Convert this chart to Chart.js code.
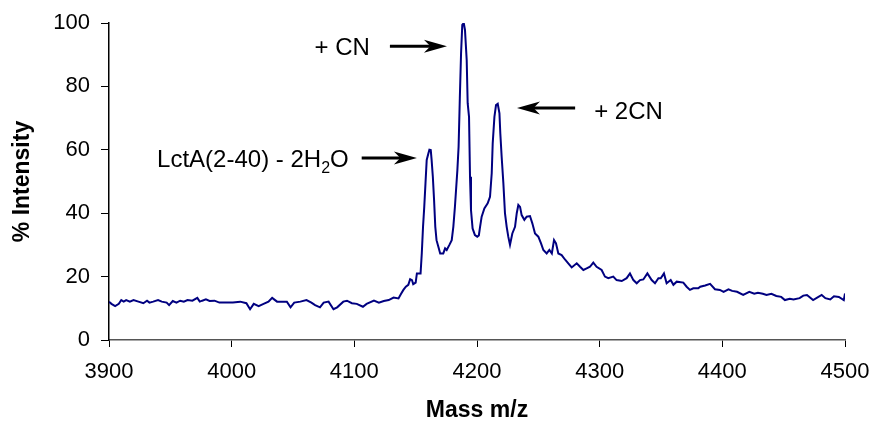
<!DOCTYPE html>
<html>
<head>
<meta charset="utf-8">
<script src="https://cdn.jsdelivr.net/npm/chart.js@4/dist/chart.umd.min.js"></script>
<style>
  html, body { margin: 0; padding: 0; background: #ffffff; }
  #wrap { width: 873px; height: 430px; }
</style>
</head>
<body>
<div id="wrap"><canvas id="spectrum" width="873" height="430"></canvas></div>
<script>
// Mass spectrum of LctA(2-40): m/z against relative intensity
const massValues = [
  3900, 3902, 3905, 3908, 3910, 3912, 3914, 3917, 3920, 3924,
  3928, 3931, 3933, 3936, 3940, 3943, 3947, 3949, 3952, 3955,
  3958, 3961, 3964, 3968, 3972, 3974, 3976, 3979, 3982, 3986,
  3990, 3996, 4001, 4007, 4012, 4015, 4018, 4022, 4026, 4030,
  4033, 4037, 4045, 4048, 4051, 4056, 4061, 4065, 4068, 4072,
  4075, 4079, 4083, 4086, 4091, 4094, 4098, 4102, 4107, 4110,
  4116, 4120, 4124, 4128, 4132, 4136, 4138, 4140, 4142, 4144,
  4145.5, 4147, 4148, 4150, 4151, 4154, 4155, 4156, 4157, 4158,
  4159, 4160.4, 4161.2, 4162.3, 4163, 4164, 4165, 4166, 4167, 4168.5,
  4170, 4172.5, 4174, 4175.3, 4177.5, 4179.4, 4180.7, 4182, 4184, 4185,
  4186, 4187, 4188, 4189.2, 4190.2, 4191.6, 4192.4, 4193.5, 4194.3, 4195.1,
  4196.4, 4198.3, 4200.2, 4201.5, 4202.5, 4203.8, 4206, 4208.7, 4210.6, 4212,
  4212.8, 4214.2, 4215.5, 4216.9, 4218.3, 4219, 4220.1, 4221.5, 4222.8, 4224.2,
  4225.5, 4226.9, 4228.8, 4231, 4232.4, 4233.7, 4235.1, 4236.4, 4238.6, 4240.5,
  4243.2, 4245.1, 4247.3, 4250, 4252.2, 4254.1, 4256.8, 4259, 4261, 4262.8,
  4264.4, 4266.3, 4269, 4271.7, 4274.4, 4277.2, 4281.3, 4284, 4286.7, 4289.4,
  4292.1, 4294.8, 4297.5, 4301.6, 4304.3, 4307, 4311.1, 4313.8, 4318, 4322,
  4324.7, 4327.5, 4330.2, 4332.9, 4335.6, 4338.9, 4342.4, 4345.1, 4347.9, 4349.8,
  4352.4, 4354.6, 4357.9, 4360.1, 4362.8, 4368.2, 4370.9, 4373.6, 4376.3, 4380.4,
  4382, 4386, 4390, 4394, 4398, 4401, 4405, 4408, 4412, 4417,
  4422, 4426, 4429, 4433, 4436, 4440, 4444, 4448, 4451, 4455,
  4458, 4463, 4466, 4469, 4474, 4478, 4481, 4484, 4488, 4491,
  4495, 4499, 4500
];
const intensityValues = [
  12.1, 11.4, 10.7, 11.4, 12.6, 12.1, 12.6, 12.1, 12.6, 12.1,
  11.6, 12.4, 11.8, 12.1, 12.6, 12.1, 11.8, 11.0, 12.3, 11.8,
  12.4, 12.1, 12.6, 12.4, 13.3, 12.1, 12.4, 12.8, 12.3, 12.4,
  11.8, 11.8, 11.8, 12.1, 11.6, 9.7, 11.4, 10.7, 11.4, 12.1,
  13.3, 12.1, 12.1, 10.3, 11.8, 12.1, 12.6, 11.8, 11.0, 10.3,
  11.8, 12.1, 9.7, 10.3, 12.1, 12.4, 11.6, 11.4, 10.5, 11.4,
  12.4, 11.8, 12.3, 12.6, 13.4, 13.1, 14.5, 15.8, 16.8, 17.4,
  19.2, 18.9, 17.6, 18.1, 21.0, 21.0, 27.4, 35.7, 42.0, 49.4,
  56.8, 58.9, 60.0, 59.9, 56.8, 51.5, 44.2, 35.7, 31.5, 29.4,
  27.3, 27.3, 28.9, 28.4, 30.0, 31.5, 35.7, 42.0, 53.6, 61.0,
  76.3, 90.4, 99.4, 100.0, 97.8, 88.3, 74.7, 70.4, 51.5, 41.0,
  35.2, 33.1, 32.6, 33.0, 35.7, 38.9, 41.5, 43.1, 45.2, 52.6,
  62.0, 70.4, 74.1, 74.5, 71.5, 65.2, 57.8, 49.4, 40.0, 35.7,
  32.6, 30.0, 33.6, 35.7, 40.0, 42.6, 42.0, 39.4, 37.9, 38.9,
  39.1, 36.8, 33.6, 32.6, 30.5, 28.4, 27.3, 28.4, 27.3, 31.5,
  30.5, 27.3, 26.8, 25.4, 24.2, 22.9, 24.2, 23.1, 22.1, 22.6,
  23.1, 24.4, 23.1, 22.1, 20.0, 19.5, 20.0, 18.9, 18.6, 19.5,
  21.0, 18.9, 17.9, 18.9, 19.1, 21.0, 18.9, 17.9, 19.5, 19.5,
  21.0, 17.9, 18.9, 17.4, 18.4, 18.1, 16.8, 15.8, 16.3, 16.3,
  16.8, 17.2, 17.7, 16.0, 15.8, 15.2, 16.0, 15.5, 15.2, 14.2,
  15.2, 14.6, 14.9, 14.6, 14.2, 14.6, 13.9, 13.6, 12.6, 13.0,
  12.8, 13.2, 14.0, 14.2, 12.6, 13.5, 14.2, 13.2, 12.8, 13.8,
  13.6, 12.6, 14.7
];
const massTicks = [3900, 4000, 4100, 4200, 4300, 4400, 4500];
const intensityTicks = [0, 20, 40, 60, 80, 100];

// Peak labels: text pieces (subscript flag), arrow tip in data units, arrow tail mass
const peakLabels = [
  { parts: [['+ CN', false]], tipMass: 4175.5, tipIntensity: 92.7, tailMass: 4129, side: 'left', gap: 20, dy: 0 },
  { parts: [['+ 2CN', false]], tipMass: 4232.6, tipIntensity: 73.2, tailMass: 4280, side: 'right', gap: 19, dy: 2 },
  { parts: [['LctA(2-40) - 2H', false], ['2', true], ['O', false]], tipMass: 4151, tipIntensity: 57.4, tailMass: 4106, side: 'left', gap: 13, dy: 0 }
];

const FONT = "'Liberation Sans', Arial, sans-serif";

const arrowLabelPlugin = {
  id: 'arrowLabels',
  afterDatasetsDraw(chart) {
    const ctx = chart.ctx;
    const xs = chart.scales.x, ys = chart.scales.y;
    ctx.save();
    ctx.fillStyle = '#000';
    ctx.strokeStyle = '#000';
    peakLabels.forEach(p => {
      const tipX = xs.getPixelForValue(p.tipMass);
      const y = ys.getPixelForValue(p.tipIntensity);
      const tailX = xs.getPixelForValue(p.tailMass);
      const dir = tipX > tailX ? 1 : -1;
      const headLen = 23, headHalf = 6.5;
      // shaft
      ctx.lineWidth = 3;
      ctx.beginPath();
      ctx.moveTo(tailX, y);
      ctx.lineTo(tipX - dir * headLen * 0.7, y);
      ctx.stroke();
      // arrowhead
      ctx.beginPath();
      ctx.moveTo(tipX, y);
      ctx.lineTo(tipX - dir * headLen, y - headHalf);
      ctx.lineTo(tipX - dir * headLen * 0.72, y);
      ctx.lineTo(tipX - dir * headLen, y + headHalf);
      ctx.closePath();
      ctx.fill();
      // text
      const mainFont = '24px ' + FONT, subFont = '16px ' + FONT;
      let total = 0;
      p.parts.forEach(([t, sub]) => { ctx.font = sub ? subFont : mainFont; total += ctx.measureText(t).width; });
      let x = p.side === 'left' ? tailX - p.gap - total : tailX + p.gap;
      const base = y + p.dy + 8.6;
      ctx.textBaseline = 'alphabetic';
      ctx.textAlign = 'left';
      p.parts.forEach(([t, sub]) => {
        ctx.font = sub ? subFont : mainFont;
        ctx.fillText(t, x, sub ? base + 6 : base);
        x += ctx.measureText(t).width;
      });
    });
    ctx.restore();
  }
};

new Chart(document.getElementById('spectrum'), {
  type: 'line',
  data: {
    datasets: [{
      data: massValues.map((m, i) => ({ x: m, y: intensityValues[i] })),
      borderColor: '#000080',
      borderWidth: 2,
      pointRadius: 0,
      tension: 0,
      fill: false
    }]
  },
  options: {
    responsive: false,
    animation: false,
    devicePixelRatio: 1,
    layout: { padding: { left: 0, right: 28, top: 23, bottom: 0 } },
    plugins: { legend: { display: false }, tooltip: { enabled: false } },
    scales: {
      x: {
        type: 'linear',
        min: 3900,
        max: 4500,
        afterBuildTicks: s => { s.ticks = massTicks.map(v => ({ value: v })); },
        afterFit: s => { s.height = 90; s.paddingLeft = 0; s.paddingRight = 0; },
        ticks: { color: '#000', font: { family: FONT, size: 22 }, padding: 12, maxRotation: 0, callback: v => String(v) },
        grid: { drawOnChartArea: false, drawTicks: true, tickLength: 7, tickColor: '#000', tickWidth: 1 },
        border: { color: '#555', width: 1.5 },
        title: { display: true, text: 'Mass m/z', color: '#000', font: { family: FONT, size: 23, weight: 'bold' }, padding: { top: 0, bottom: 6 } }
      },
      y: {
        min: 0,
        max: 100,
        afterBuildTicks: s => { s.ticks = intensityTicks.map(v => ({ value: v })); },
        afterFit: s => { s.width = 109; s.paddingTop = 0; s.paddingBottom = 0; },
        ticks: { color: '#000', font: { family: FONT, size: 22 }, padding: 11, callback: v => String(v) },
        grid: { drawOnChartArea: false, drawTicks: true, tickLength: 8, tickColor: '#000', tickWidth: 1 },
        border: { color: '#000', width: 1.5 },
        title: { display: true, text: '% Intensity', color: '#000', font: { family: FONT, size: 23, weight: 'bold' }, padding: { top: 9, bottom: 0 } }
      }
    }
  },
  plugins: [arrowLabelPlugin]
});
</script>
</body>
</html>
